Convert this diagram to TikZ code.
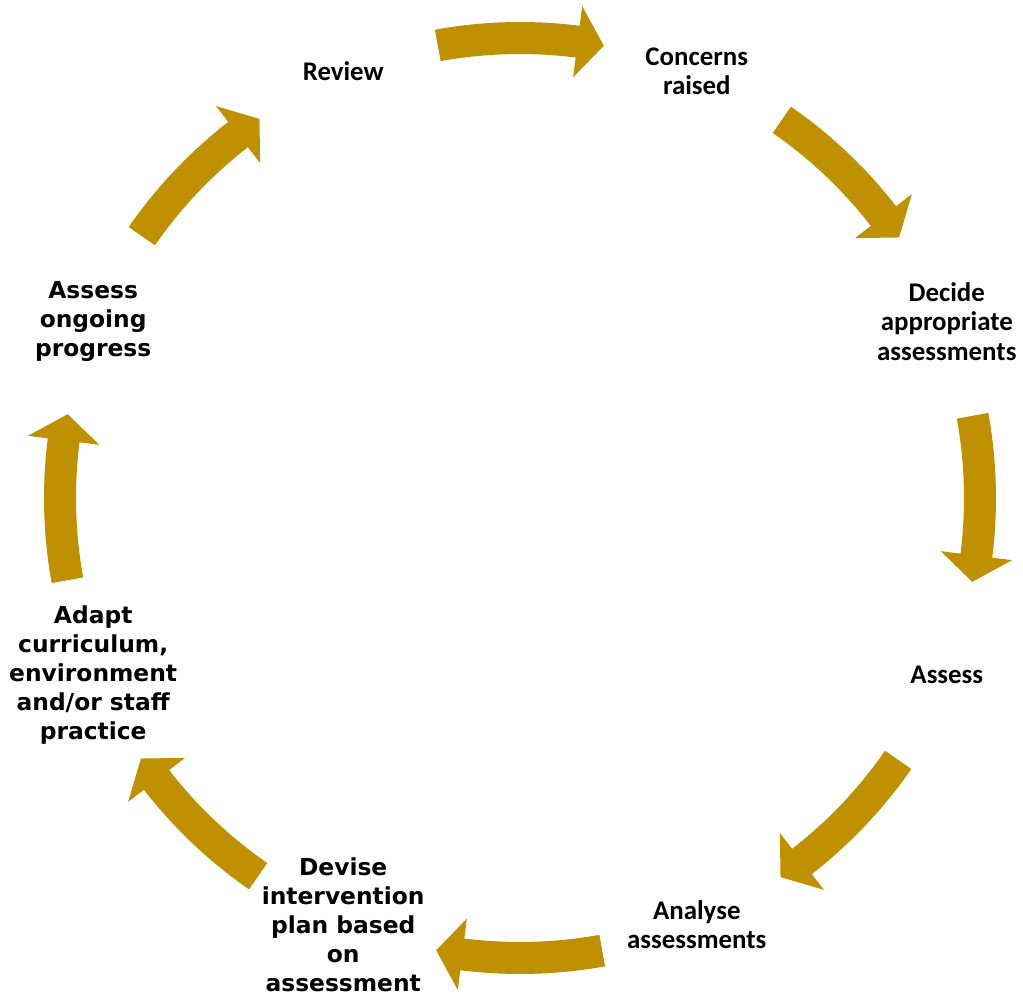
\documentclass[tikz,border=0pt]{standalone}
\usepackage{fontspec}
\newfontfamily\calibfont{Carlito}
\newfontfamily\verdfont{DejaVu Sans}
\usetikzlibrary{calc}
\definecolor{cyclegold}{RGB}{191,144,0}

\begin{document}
\begin{tikzpicture}[x=0.02cm,y=0.02cm]
    % --- Dimensions (in px of the original) ---
    \def\LabelR{462}      % radius of the label ring
    \def\ArrowR{460}      % centre line of the arrow band
    \def\ShaftW{16}       % half thickness of the arrow shaft
    \def\HeadW{36}        % half width of the arrow head
    \def\TailA{10.3}      % tail offset from mid angle
    \def\BaseA{7.2}       % head base offset from mid angle
    \def\TipA{10.5}       % tip offset from mid angle

    % --- Derived radii ---
    \pgfmathsetmacro{\ShaftOut}{\ArrowR+\ShaftW}
    \pgfmathsetmacro{\ShaftIn}{\ArrowR-\ShaftW}
    \pgfmathsetmacro{\HeadOut}{\ArrowR+\HeadW}
    \pgfmathsetmacro{\HeadIn}{\ArrowR-\HeadW}

    % --- Styles ---
    \tikzset{
        cycle arrow/.style={fill=cyclegold, draw=none},
        small label/.style={font=\calibfont\bfseries\fontsize{15.3pt}{16.8pt}\selectfont,
            align=center, inner sep=0pt},
        big label/.style={font=\verdfont\bfseries\fontsize{13.3pt}{16.5pt}\selectfont,
            align=center, inner sep=0pt}
    }

    % Fix the page to the reference size
    \useasboundingbox (-520,-495) rectangle (503,498);

    % =========================================================
    % 1) CURVED ARROWS (clockwise, one between each pair of labels)
    % =========================================================
    \foreach \m in {90,45,...,-225} {
        \pgfmathsetmacro{\aT}{\m+\TailA}
        \pgfmathsetmacro{\aB}{\m-\BaseA}
        \pgfmathsetmacro{\aP}{\m-\TipA}
        \fill[cycle arrow]
          (\aT:\ShaftOut) arc[start angle=\aT, end angle=\aB, radius=\ShaftOut]
          -- (\aB:\HeadOut) -- (\aP:\ArrowR) -- (\aB:\HeadIn)
          -- (\aB:\ShaftIn) arc[start angle=\aB, end angle=\aT, radius=\ShaftIn]
          -- cycle;
    }

    % =========================================================
    % 2) LABELS
    % =========================================================
    \node[small label] (review)   at (112.5:\LabelR) {Review};
    \node[small label] (concerns) at (67.5:\LabelR)  {Concerns\\raised};
    \node[small label] (decide)   at (22.5:\LabelR)  {Decide\\appropriate\\assessments};
    \node[small label] (assess)   at (-22.5:\LabelR) {Assess};
    \node[small label] (analyse)  at (-67.5:\LabelR) {Analyse\\assessments};
    \node[big label]   (devise)   at (-112.5:\LabelR) {Devise\\intervention\\plan based\\on\\assessment};
    \node[big label]   (adapt)    at (-157.5:\LabelR) {Adapt\\curriculum,\\environment\\and/or staff\\practice};
    \node[big label]   (ongoing)  at (157.5:\LabelR)  {Assess\\ongoing\\progress};

\end{tikzpicture}
\end{document}
